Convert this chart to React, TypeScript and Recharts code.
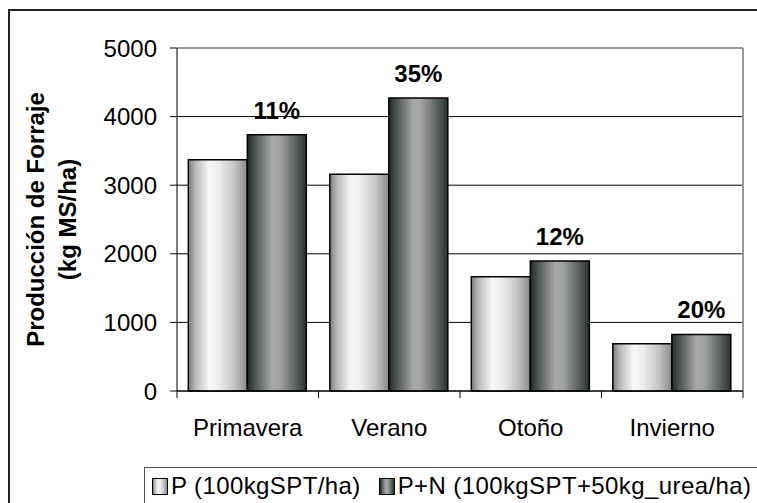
import React from "react"
import { BarChart, Bar, XAxis, YAxis, CartesianGrid, LabelList } from "recharts"

const categories = ["Primavera", "Verano", "Otoño", "Invierno"]
const seriesP = [3370, 3160, 1665, 690]
const seriesPN = [3735, 4270, 1895, 825]
const increases = ["11%", "35%", "12%", "20%"]
const yTicks = [0, 1000, 2000, 3000, 4000, 5000]
const seriesNames = ["P (100kgSPT/ha)", "P+N (100kgSPT+50kg_urea/ha)"]
const yTitle = ["Producción de Forraje", "(kg MS/ha)"]

const FONT = "Arial, 'Liberation Sans', sans-serif"

// gradient stops for the two series (Excel-style "metal" fill)
const lightStops = [
  ["0%", "#7c7c7c"],
  ["12%", "#b8b8b8"],
  ["35%", "#f7f7f7"],
  ["52%", "#eeeeee"],
  ["78%", "#c4c4c4"],
  ["100%", "#8a8a8a"],
]
const darkStops = [
  ["0%", "#1f2a28"],
  ["14%", "#4f5856"],
  ["42%", "#a9a9a9"],
  ["55%", "#a2a2a2"],
  ["80%", "#606765"],
  ["100%", "#27312f"],
]

const cssGradient = (stops: string[][]) =>
  `linear-gradient(to right, ${stops.map(([o, c]) => `${c} ${o}`).join(", ")})`

const CategoryTick = ({ x, y, payload, index }: any) => {
  const half = payload?.offset ?? 70.75
  return (
    <g>
      <line x1={x - half} x2={x - half} y1={y} y2={y + 7} stroke="#000" />
      {index === categories.length - 1 && (
        <line x1={x + half} x2={x + half} y1={y} y2={y + 7} stroke="#000" />
      )}
      <text x={x} y={y + 45} textAnchor="middle" fontSize={24} fontFamily={FONT} fill="#000">
        {payload.value}
      </text>
    </g>
  )
}

const YTitle = ({ viewBox }: any) => {
  const cy = viewBox ? viewBox.y + viewBox.height / 2 : 220
  const xs = [35, 67]
  return (
    <g>
      {yTitle.map((line, i) => (
        <text
          key={line}
          x={xs[i]}
          y={cy}
          transform={`rotate(-90 ${xs[i]} ${cy})`}
          textAnchor="middle"
          dominantBaseline="central"
          fontSize={24}
          fontWeight="bold"
          fontFamily={FONT}
          fill="#000"
        >
          {line}
        </text>
      ))}
    </g>
  )
}

export default function App() {
  const data = categories.map((name, i) => ({
    name,
    p: seriesP[i],
    pn: seriesPN[i],
    pct: increases[i],
  }))

  return (
    <div
      style={{
        position: "absolute",
        left: 0,
        top: 0,
        width: 757,
        height: 503,
        overflow: "hidden",
        background: "#fff",
        fontFamily: FONT,
      }}
    >
      {/* outer chart frame */}
      <div
        style={{
          position: "absolute",
          left: 8,
          top: 9,
          width: 780,
          height: 520,
          borderLeft: "2px solid #222",
          borderTop: "2px solid #222",
        }}
      />
      <div style={{ position: "absolute", left: 0, top: 0 }}>
        <BarChart
          width={757}
          height={503}
          data={data}
          margin={{ top: 48, right: 14, left: 0, bottom: 72 }}
          barCategoryGap="8%"
          barGap={0}
        >
          <defs>
            <linearGradient id="gradP" x1="0" y1="0" x2="1" y2="0">
              {lightStops.map(([o, c]) => (
                <stop key={o} offset={o} stopColor={c} />
              ))}
            </linearGradient>
            <linearGradient id="gradPN" x1="0" y1="0" x2="1" y2="0">
              {darkStops.map(([o, c]) => (
                <stop key={o} offset={o} stopColor={c} />
              ))}
            </linearGradient>
          </defs>
          <CartesianGrid vertical={false} stroke="#000" />
          <CartesianGrid
            stroke="#999"
            strokeWidth={2}
            horizontalCoordinatesGenerator={({ offset }: any) => [offset.top]}
            verticalCoordinatesGenerator={({ offset }: any) => [offset.left + offset.width]}
          />
          <XAxis
            dataKey="name"
            height={40}
            tickLine={false}
            tickSize={0}
            tickMargin={0}
            axisLine={{ stroke: "#000" }}
            tick={<CategoryTick />}
            interval={0}
          />
          <YAxis
            width={177}
            domain={[0, 5000]}
            ticks={yTicks}
            tickSize={7}
            tickMargin={13}
            axisLine={{ stroke: "#000" }}
            tickLine={{ stroke: "#000" }}
            tick={{ fontSize: 24, fill: "#000", fontFamily: FONT }}
            label={<YTitle />}
          />
          <Bar dataKey="p" name={seriesNames[0]} fill="url(#gradP)" stroke="#000" strokeWidth={1.5} isAnimationActive={false} />
          <Bar dataKey="pn" name={seriesNames[1]} fill="url(#gradPN)" stroke="#000" strokeWidth={1.5} isAnimationActive={false}>
            <LabelList
              dataKey="pct"
              position="top"
              offset={16}
              fontSize={24}
              fontWeight="bold"
              fontFamily={FONT}
              fill="#000"
            />
          </Bar>
        </BarChart>
      </div>
      {/* legend */}
      <div
        style={{
          position: "absolute",
          left: 144,
          top: 467,
          width: 700,
          height: 40,
          border: "1.5px solid #555",
          boxSizing: "border-box",
          display: "flex",
          alignItems: "flex-start",
          paddingLeft: 7,
          paddingTop: 5,
        }}
      >
        {seriesNames.map((n, i) => (
          <div key={n} style={{ display: "flex", alignItems: "center", marginRight: 18 }}>
            <span
              style={{
                display: "inline-block",
                width: 14,
                height: 15,
                border: "1px solid #000",
                background: cssGradient(i === 0 ? lightStops : darkStops),
                marginRight: 3,
              }}
            />
            <span style={{ fontSize: 24, lineHeight: "26px", color: "#000", letterSpacing: 0.4 }}>{n}</span>
          </div>
        ))}
      </div>
    </div>
  )
}
